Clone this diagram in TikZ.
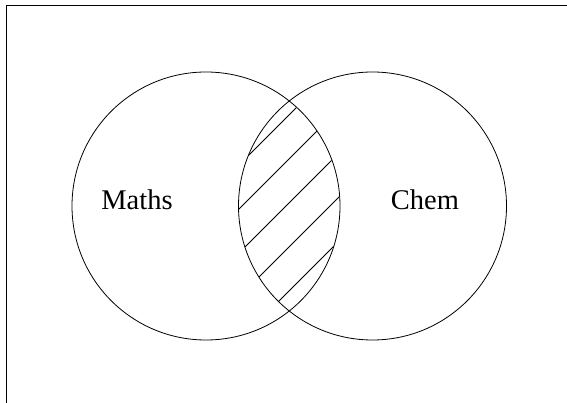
\documentclass[tikz,border=0pt]{standalone}
\usepackage{fontspec}
\setmainfont{Liberation Serif}
\begin{document}
\begin{tikzpicture}[x=1pt,y=-1pt,
  ring/.style={circle,draw,line width=0.8pt,minimum size=268pt,inner sep=0pt},
  setlabel/.style={anchor=base,inner sep=0pt,font=\fontsize{28.5}{32}\selectfont},
  hatch/.style={line width=0.8pt},
  frameline/.style={line width=1pt,line cap=rect}]
\useasboundingbox (0,0) rectangle (567,403);
% frame (only top and left edges visible)
\coordinate (fTL) at (6.3,5.3);
\coordinate (fTR) at (575,5.3);
\coordinate (fBL) at (6.3,410);
\draw[frameline] (fTR) -- (fTL) -- (fBL);
% circles
\node[ring] (L) at (206,206) {};
\node[ring] (R) at (372.5,206) {};
% hatching of the intersection
\begin{scope}
  \clip (206,206) circle (133.6);
  \clip (372.5,206) circle (133.6);
  \foreach \c in {404,448,492,536,580}{
    \draw[hatch] (\c-50,50) -- (\c-350,350);
  }
\end{scope}
% labels
\node[setlabel] (maths) at (137,210) {Maths};
\node[setlabel] (chem) at (425,210) {Chem};
\end{tikzpicture}
\end{document}
